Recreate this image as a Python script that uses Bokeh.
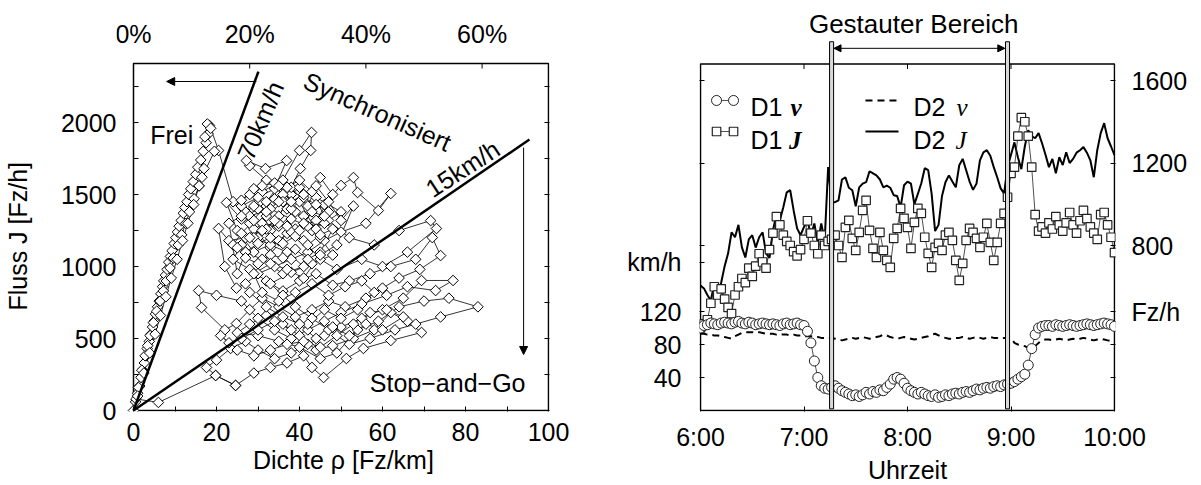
import numpy as np
from bokeh.plotting import figure
from bokeh.models import (Range1d, LinearAxis, FixedTicker, Arrow, NormalHead, Label)
from bokeh.layouts import row
from bokeh.embed import file_html
from bokeh.resources import INLINE

FONT = "Liberation Sans"
SERIF = "Liberation Serif"
FS = "25px"
FS_LABEL = "25px"

# ---------------- left panel: Dichte rho [Fz/km] vs Fluss J [Fz/h] ----------------
frei_auf_rho = [0, 0.5, 1.0, 1.5, 1.8, 2.2, 2.6, 3.0, 3.3, 3.8,
                4.2, 4.6, 5.0, 5.3, 5.8, 6.2, 6.6, 7.0, 7.3, 7.7,
                8.1, 8.5, 8.9, 9.3, 9.8, 10.2, 10.6, 11.0, 11.5, 12.0,
                12.4, 12.9, 13.3, 13.8, 14.4, 15.0, 15.5, 16.2, 16.8, 17.5,
                18.0, 18.3, 17.8, 17.2, 18.6]
frei_auf_J = [0, 60, 120, 170, 230, 280, 330, 380, 430, 480,
              530, 580, 620, 670, 720, 760, 810, 860, 900, 940,
              980, 1030, 1070, 1110, 1160, 1200, 1240, 1280, 1320, 1370,
              1410, 1450, 1500, 1540, 1590, 1640, 1690, 1740, 1800, 1860,
              1920, 1980, 1990, 1900, 1960]

gestaut_rho = [20.5, 24, 28, 32, 30, 35, 38, 33, 27, 31,
               36, 40, 42.9, 42.7, 40.2, 38, 42, 45, 48, 44,
               39, 35, 29, 25, 22.4, 26, 30, 34, 37, 41,
               46, 50, 53, 54, 59, 62, 56, 50, 46, 42,
               38, 34, 30, 27, 24.8, 22, 20.5, 23, 27, 31,
               35, 39, 43, 47, 52, 58, 64, 71.6, 73, 66,
               60, 55, 49, 45, 41, 37, 33, 29, 26, 24,
               28, 32, 36, 40, 44, 48, 52, 57, 62, 68,
               72, 74, 69, 64, 60, 56, 51, 47, 43, 39,
               35, 31, 28, 24.8, 22, 16.4, 15.7, 20, 26, 30,
               34, 38, 42, 46, 50, 55, 61, 66, 72.8, 77,
               69.4, 65, 60, 55, 50, 46, 42, 38, 34, 30,
               27, 23.4, 20, 17.6, 19.8, 24.6, 29, 33, 37, 41,
               43, 45.8, 51.3, 55.4, 62, 69.4, 66, 62, 58, 53,
               48, 44, 40, 36, 32, 28, 25, 30, 35, 40,
               45, 49, 54, 59, 64, 70, 76, 83, 74, 68,
               63, 57, 52, 47, 43, 39, 36, 33, 38, 43,
               48, 45, 40, 36, 32, 28, 27.2, 31.8, 36.9, 34,
               30, 26, 28, 33, 38, 42, 46, 50, 44, 40,
               36, 32, 29, 33, 37, 41, 36, 31, 27, 25]
gestaut_J = [1806, 1450, 1300, 1420, 1200, 1350, 1500, 1250, 1380, 1520,
             1600, 1806, 1931, 1806, 1680, 1550, 1420, 1618, 1500, 1320,
             1260, 1180, 1100, 1250, 1444, 1330, 1400, 1470, 1400, 1350,
             1430, 1563, 1618, 1514, 1389, 1507, 1300, 1240, 1180, 1100,
             1050, 1000, 950, 880, 850, 1000, 1264, 1180, 1200, 1300,
             1280, 1380, 1250, 1320, 1200, 1150, 1250, 1319, 1264, 1100,
             1000, 1050, 980, 1050, 1180, 1230, 1130, 1260, 1150, 1050,
             980, 900, 830, 900, 950, 870, 900, 950, 1000, 1050,
             1201, 1076, 980, 920, 850, 780, 720, 760, 700, 650,
             720, 780, 700, 604, 560, 715, 833, 800, 760, 640,
             560, 500, 560, 620, 680, 740, 800, 860, 833, 903,
             903, 780, 700, 640, 580, 520, 460, 400, 360, 420,
             480, 431, 350, 299, 243, 174, 260, 299, 330, 380,
             299, 229, 361, 431, 486, 542, 620, 680, 560, 500,
             450, 420, 520, 600, 660, 600, 540, 520, 480, 440,
             360, 400, 560, 620, 720, 760, 780, 720, 650, 600,
             560, 500, 460, 560, 640, 720, 800, 880, 960, 1020,
             1080, 1200, 1450, 1500, 1600, 1700, 1736, 1680, 1736, 1540,
             1480, 1420, 1350, 1400, 1330, 1280, 1300, 1380, 1480, 1550,
             1450, 1350, 1200, 1150, 1100, 1000, 950, 1050, 1100, 950]

gestaut2_rho = [23, 26, 29, 32, 35, 38, 41, 44, 47, 44,
                41, 38, 35, 32, 29, 26, 24, 27, 30, 33,
                36, 39, 42, 45, 48, 45, 42, 39, 36, 33,
                30, 27, 25, 28, 31, 34, 37, 40, 43, 46,
                43, 40, 37, 34, 31, 28, 26, 29, 32, 35,
                38, 41, 44, 47, 50, 53, 49, 45, 41, 37,
                33, 29, 31, 35, 39, 43, 47, 51, 55, 58,
                54, 50, 46, 42, 38, 34, 30, 26, 23, 21,
                25, 29, 33, 37, 41, 45, 49, 53, 57, 61,
                65, 60, 56, 52, 48, 44, 40, 36, 32, 28]
gestaut2_J = [1300, 1350, 1420, 1380, 1450, 1400, 1480, 1430, 1380, 1260,
              1300, 1240, 1300, 1260, 1320, 1230, 1150, 1100, 1160, 1200,
              1160, 1210, 1150, 1220, 1260, 1100, 1050, 1120, 1060, 1080,
              1020, 1060, 1130, 1200, 1250, 1320, 1280, 1250, 1380, 1350,
              1520, 1600, 1550, 1580, 1560, 1500, 1460, 1540, 1450, 1560,
              1450, 1500, 1560, 1450, 1320, 1420, 1150, 1080, 920, 980,
              1020, 950, 820, 760, 820, 880, 800, 860, 900, 820,
              700, 640, 700, 600, 560, 620, 560, 500, 470, 520,
              420, 380, 420, 460, 480, 440, 520, 600, 680, 700,
              650, 560, 600, 520, 580, 500, 600, 650, 720, 820]

frei_ab_rho = [19.5, 16.5, 15.8, 14.6, 13.5, 12.6, 11.6, 10.8, 9.6, 8.8,
               7.9, 7.2, 6.4, 5.6, 4.8, 4.0, 3.4, 2.8, 2.0, 1.2, 0.6]
frei_ab_J = [1800, 1620, 1560, 1470, 1380, 1300, 1220, 1150, 1060, 990,
             900, 830, 760, 690, 610, 520, 450, 380, 280, 160, 80]

frei3_rho = [1.0, 2.5, 3.9, 5.2, 6.5, 7.8, 9.1, 10.5, 11.8, 13.1, 14.5, 15.8, 17.0]
frei3_J = [100, 260, 400, 530, 660, 790, 920, 1050, 1180, 1300, 1430, 1560, 1680]

rest_rho = [6.0, 19.8, 24.6]
rest_J = [56, 243, 174]

linie70_rho = [0, 30.1]
linie70_J = [0, 2354]
linie15_rho = [0, 95.4]
linie15_J = [0, 1882]

dichte_ticks = [0, 20, 40, 60, 80, 100]
dichte_minor = [10, 30, 50, 70, 90]
fluss_ticks = [0, 500, 1000, 1500, 2000]
fluss_minor = [250, 750, 1250, 1750, 2250]
fluss_ticks_rechts = [0, 250, 500, 750, 1000, 1250, 1500, 1750, 2000, 2250]
prozent_ticks = [0, 20, 40, 60]
RHO_PRO_PROZENT = 1.4

# ---------------- right panel: time series ----------------
zeit_min = list(range(0, 241, 2))          # minutes after 6:00
zeit = [6 + m / 60 for m in zeit_min]
zeit_ticks = [6, 7, 8, 9, 10]
zeit_labels = ["6:00", "7:00", "8:00", "9:00", "10:00"]
zeit_ticks_oben = [7, 8, 9]

d1_v = [100, 103, 104, 106, 105, 104, 106, 107, 106, 105,
        107, 108, 106, 105, 107, 106, 104, 105, 106, 105,
        104, 105, 104, 103, 105, 106, 104, 105, 106, 104,
        103,
        96, 82, 60, 40,
        30, 27, 26, 28, 30, 27, 24, 22, 20, 18,
        19, 17, 19, 22, 20, 23, 22, 25, 24, 28,
        32, 38, 40, 38, 33, 27, 24, 22, 20, 22,
        20, 18, 17, 19, 16, 17, 19, 18, 20, 21,
        20, 22, 23, 22, 24, 26, 25, 27, 28, 27,
        29, 30, 29, 31, 32, 33,
        35, 38, 41, 44, 55, 75, 92, 100,
        102, 103, 103, 102, 104, 103, 102, 103, 104, 103,
        102, 103, 104, 105, 104, 103, 104, 105, 106, 105,
        104, 102]

d2_v = [93, 93, 92, 92, 91, 91, 90, 89, 88, 87,
        90, 92, 94, 95, 95, 95, 94, 95, 94, 93,
        93, 93, 92, 93, 92, 92, 91, 92, 91, 91,
        90,
        90, 90, 89, 89, 88, 88, 87, 88, 87, 86,
        85, 86, 87, 88, 87, 88, 89, 88, 87, 88,
        89, 90, 92, 91, 89, 88, 87, 88, 89, 88,
        87, 86, 87, 88, 89, 90, 92, 93, 91, 89,
        88, 87, 87, 88, 88, 89, 88, 87, 88, 89,
        88, 87, 88, 89, 88, 88, 87, 88, 88, 88,
        82, 80, 79, 78, 76, 75, 78, 82, 85, 86,
        86, 85, 86, 87, 86, 85, 86, 87, 86, 87,
        88, 87, 86, 85, 86, 87, 86, 85, 84, 85]

d1_J = [400, 420, 440, 520, 600, 560, 590, 540, 500, 470,
        560, 600, 640, 620, 690, 650, 700, 760, 720, 690,
        780, 860, 940, 900, 850, 820, 800, 770, 750, 780,
        830, 920, 860, 800, 760, 850, 800, 820,
        830, 850, 800, 742, 888, 922, 835, 776, 864, 970,
        1019, 873, 786, 742, 864, 776, 728, 694, 835, 883,
        980, 932, 888, 786, 912, 980, 956, 840, 762, 694,
        791, 810, 776, 850, 864, 825, 728, 631, 713, 825,
        883, 864, 835, 791, 840, 907, 815, 728, 815, 907,
        956, 1034, 1150,
        1180, 1330, 1420, 1400, 1330, 1180, 950, 870, 890, 860,
        910, 880, 940, 900, 870, 910, 960, 900, 860, 920,
        970, 930, 890, 860, 830, 950, 960, 900, 840, 765]

d2_J = [606, 592, 560, 533, 616, 548, 621, 700, 762, 864,
        840, 900, 791, 742, 830, 850, 790, 840, 864, 762,
        740, 873, 950, 922, 985, 1058, 1068, 970, 883, 850,
        890, 922, 850, 907, 810, 907, 825,
        1180, 1010, 1010, 1019, 1120, 1130, 1080, 1068, 990, 1082,
        1100, 1107, 1160, 1150, 1140, 1120, 1082,
        1090, 1080, 1044, 1040, 985, 1092, 1110, 1100, 1000, 1050,
        1102, 1175, 1165, 1050, 870, 900, 1040, 1107, 1140, 1110,
        1082, 1189, 1220, 1165, 1110, 1070, 1100, 1213, 1252, 1262,
        1235, 1180, 1131, 1077, 1053, 1180, 1240,
        1300, 1228, 1170, 1280, 1359, 1330, 1320, 1345, 1296, 1240,
        1180, 1220, 1150, 1228, 1190, 1252, 1200, 1220, 1250, 1262,
        1277, 1250, 1213, 1131, 1262, 1345, 1393, 1320, 1280, 1238]

v_ticks = [40, 80, 120, 180, 200, 300, 400]
v_labels = {40: "40", 80: "80", 120: "120", 180: "km/h", 200: "", 300: "", 400: ""}
J_ticks = [160, 320, 480, 800, 1200, 1600]
J_labels = {160: "", 320: "", 480: "Fz/h", 800: "800", 1200: "1200", 1600: "1600"}

stau_links = [7.247, 8.947]
stau_rechts = [7.286, 8.986]

# ---- frame geometry (both frames reach above the drawn box) ----
FRAME_H = 406            # frame height in px (box is 347 px, +58 above, +1 below)
# left panel scale
PX_R = 100 / 415.0       # rho per px
PX_J = 2410 / 347.0      # J per px
J_MAX = 2410
LINKS_EXTRA = 17         # px of frame left of rho = 0 (room for the "0%" label)
# right panel scale
PX_H = 4 / 414.0         # hours per px
PX_V = 420 / 346.5       # km/h per px
V_MAX = 420              # flow axis = 4 * speed
NBSP = "\u00a0"


def style_axis(ax, label_standoff=15):
    ax.axis_line_color = None
    ax.major_tick_in = 5
    ax.major_tick_out = 0
    ax.minor_tick_in = 5
    ax.minor_tick_out = 0
    ax.major_tick_line_color = "black"
    ax.minor_tick_line_color = "black"
    ax.major_tick_line_width = 1
    ax.minor_tick_line_width = 1
    ax.major_label_text_font = FONT
    ax.major_label_text_font_size = FS
    ax.major_label_text_color = "black"
    ax.major_label_standoff = label_standoff
    ax.axis_label_text_font = FONT
    ax.axis_label_text_font_size = FS_LABEL
    ax.axis_label_text_font_style = "normal"
    ax.axis_label_text_color = "black"


def base_style(p):
    p.xgrid.visible = False
    p.ygrid.visible = False
    p.background_fill_color = "white"
    p.border_fill_color = "white"
    p.outline_line_color = None


# ================= left figure =================
yl_lo = -PX_J
p1 = figure(frame_width=417 + LINKS_EXTRA - 1, frame_height=FRAME_H,
            min_border_left=132 - LINKS_EXTRA + 1, min_border_right=50,
            min_border_top=5, min_border_bottom=60,
            x_range=Range1d(-LINKS_EXTRA * PX_R, 100 + PX_R),
            y_range=Range1d(yl_lo, yl_lo + FRAME_H * PX_J),
            output_backend="svg", toolbar_location=None)
base_style(p1)

xb = p1.xaxis[0]
xb.ticker = FixedTicker(ticks=dichte_ticks, minor_ticks=dichte_minor)
style_axis(xb, 11)
xb.axis_label = NBSP * 3 + "Dichte ρ [Fz/km]"
xb.axis_label_standoff = 2

yl = p1.yaxis[0]
yl.ticker = FixedTicker(ticks=fluss_ticks, minor_ticks=fluss_minor)
style_axis(yl, 0)
yl.major_tick_in = 0
yl.minor_tick_in = 0
yl.axis_label = "Fluss J [Fz/h]" + NBSP * 8
yl.axis_label_standoff = 26

yr = LinearAxis(ticker=FixedTicker(ticks=fluss_ticks_rechts),
                major_label_overrides={t: "" for t in fluss_ticks_rechts})
style_axis(yr, 2)
p1.add_layout(yr, "right")

# drawn frame box, left ticks, top percentage axis
p1.line([0, 100, 100, 0, 0], [0, 0, J_MAX, J_MAX, 0], line_color="black", line_width=1.5)
links_ticks = fluss_ticks + fluss_minor
p1.segment(x0=[0] * len(links_ticks), y0=links_ticks, x1=[5 * PX_R] * len(links_ticks),
           y1=links_ticks, line_color="black", line_width=1)
top_x = [RHO_PRO_PROZENT * t for t in prozent_ticks[1:]]
p1.segment(x0=top_x, y0=[J_MAX] * len(top_x), x1=top_x, y1=[J_MAX - 5 * PX_J] * len(top_x),
           line_color="black", line_width=1)
for t in prozent_ticks:
    p1.add_layout(Label(x=RHO_PRO_PROZENT * t, y=J_MAX + 30 * PX_J, text=f"{t}%",
                        text_font=FONT, text_font_size=FS, text_color="black",
                        text_align="center", text_baseline="middle"))

segmente = [(frei_auf_rho + gestaut_rho + gestaut2_rho, frei_auf_J + gestaut_J + gestaut2_J),
            (frei_ab_rho + rest_rho, frei_ab_J + rest_J),
            (frei3_rho, frei3_J)]
for sr, sj in segmente:
    p1.line(sr, sj, line_color="black", line_width=0.8)
for sr, sj in segmente:
    p1.scatter(sr, sj, marker="square", angle=45, angle_units="deg", size=7.5,
               fill_color="white", line_color="black", line_width=1)

p1.line(linie70_rho, linie70_J, line_color="black", line_width=2.5)
p1.line(linie15_rho, linie15_J, line_color="black", line_width=2.5)

p1.add_layout(Arrow(end=NormalHead(size=8, fill_color="black", line_color="black"),
                    x_start=29.6, y_start=2285, x_end=8.0, y_end=2285,
                    line_color="black", line_width=1))
p1.add_layout(Arrow(end=NormalHead(size=8, fill_color="black", line_color="black"),
                    x_start=94, y_start=1826, x_end=94, y_end=389,
                    line_color="black", line_width=1))

for (tx, ty, txt, ang) in [(9.2, 1910, "Frei", 0), (30.6, 2014, "70km/h", 67),
                           (58.8, 2076, "Synchronisiert", -24), (79.3, 1680, "15km/h", 33),
                           (75.7, 194, "Stop\u2212and\u2212Go", 0)]:
    p1.add_layout(Label(x=tx, y=ty, text=txt, angle=ang, angle_units="deg",
                        text_font=FONT, text_font_size=FS, text_color="black",
                        text_align="center", text_baseline="middle"))

# ================= right figure =================
y_lo = -PX_V
y_hi = y_lo + FRAME_H * PX_V
p2 = figure(frame_width=416, frame_height=FRAME_H, min_border_left=100, min_border_right=75,
            min_border_top=5, min_border_bottom=60,
            x_range=Range1d(6 - PX_H, 10 + PX_H), y_range=Range1d(y_lo, y_hi),
            output_backend="svg", toolbar_location=None)
base_style(p2)
p2.extra_y_ranges = {"fluss": Range1d(4 * y_lo, 4 * y_hi)}

xb2 = p2.xaxis[0]
xb2.ticker = FixedTicker(ticks=zeit_ticks)
xb2.major_label_overrides = dict(zip(zeit_ticks, zeit_labels))
style_axis(xb2, 11)
xb2.axis_label = "Uhrzeit"
xb2.axis_label_standoff = 2

yl2 = p2.yaxis[0]
yl2.ticker = FixedTicker(ticks=v_ticks)
yl2.major_label_overrides = v_labels
style_axis(yl2, 18)

yr2 = LinearAxis(y_range_name="fluss", ticker=FixedTicker(ticks=J_ticks),
                 major_label_overrides=J_labels)
style_axis(yr2, 16)
p2.add_layout(yr2, "right")

# drawn frame box and top mirror ticks
p2.line([6, 10, 10, 6, 6], [0, 0, V_MAX, V_MAX, 0], line_color="black", line_width=1.5)
p2.segment(x0=zeit_ticks_oben, y0=[V_MAX] * 3, x1=zeit_ticks_oben,
           y1=[V_MAX - 5 * PX_V] * 3, line_color="black", line_width=1)

p2.line(zeit, d2_v, line_color="black", line_width=2, line_dash="7 5")
p2.line(zeit, d2_J, y_range_name="fluss", line_color="black", line_width=2)
p2.line(zeit, d1_J, y_range_name="fluss", line_color="#222222", line_width=0.8)
p2.scatter(zeit, d1_J, y_range_name="fluss", marker="square", size=8.5,
           fill_color="white", line_color="#222222", line_width=1.2)
p2.line(zeit, d1_v, line_color="#222222", line_width=0.8)
p2.scatter(zeit, d1_v, marker="circle", size=10,
           fill_color="white", line_color="#222222", line_width=1)

p2.quad(left=stau_links, right=stau_rechts, bottom=2, top=447,
        fill_color="#d9d9d9", line_color="black", line_width=1)

p2.add_layout(Arrow(start=NormalHead(size=7, fill_color="black", line_color="black"),
                    end=NormalHead(size=7, fill_color="black", line_color="black"),
                    x_start=7.29, y_start=439, x_end=8.94, y_end=439,
                    line_color="black", line_width=1))
p2.add_layout(Label(x=8.06, y=469, text="Gestauter Bereich", text_font=FONT,
                    text_font_size="26px", text_color="black",
                    text_align="center", text_baseline="middle"))

# legend (drawn by hand)
leg_x = [6.155, 6.319]
p2.line(leg_x, [375.8, 375.8], line_color="#222222", line_width=0.8)
p2.scatter(leg_x, [375.8, 375.8], marker="circle", size=10, fill_color="white",
           line_color="#222222", line_width=1)
p2.line(leg_x, [338.2, 338.2], line_color="#222222", line_width=0.8)
p2.scatter(leg_x, [338.2, 338.2], marker="square", size=8.5, fill_color="white",
           line_color="#222222", line_width=1.2)
p2.line([7.594, 7.913], [375.8, 375.8], line_color="black", line_width=2, line_dash="7 5")
p2.line([7.594, 7.913], [338.2, 338.2], line_color="black", line_width=2)

for (tx, ty, txt, fnt, sty) in [(6.483, 367.3, "D1", FONT, "normal"),
                                (6.870, 367.3, "v", SERIF, "bold italic"),
                                (6.483, 327.3, "D1", FONT, "normal"),
                                (6.855, 327.3, "J", SERIF, "bold italic"),
                                (8.058, 367.3, "D2", FONT, "normal"),
                                (8.473, 367.3, "v", SERIF, "italic"),
                                (8.058, 327.3, "D2", FONT, "normal"),
                                (8.464, 327.3, "J", SERIF, "italic")]:
    p2.add_layout(Label(x=tx, y=ty, text=txt, text_font=fnt, text_font_style=sty,
                        text_font_size=FS, text_color="black",
                        text_align="left", text_baseline="alphabetic"))

layout = row(p1, p2)
open("out.html", "w").write(file_html(layout, INLINE))
